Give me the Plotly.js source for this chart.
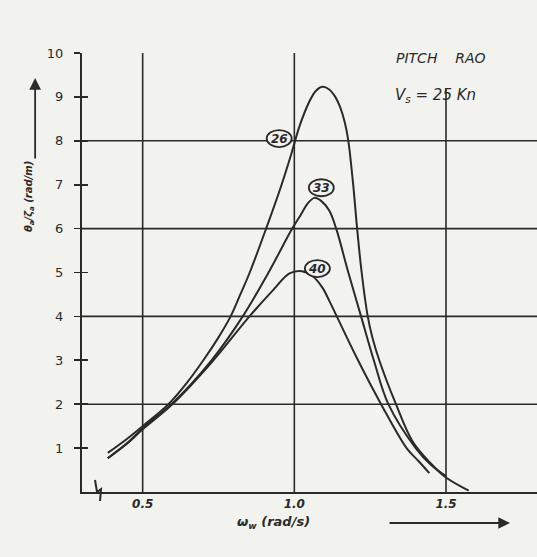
<!DOCTYPE html>
<html>
<head>
<meta charset="utf-8">
<script src="https://cdn.plot.ly/plotly-3.0.1.min.js"></script>
<style>html,body{margin:0;padding:0;background:#f2f2ef;}#chart{width:537px;height:557px;}</style>
</head>
<body>
<div id="chart"></div>
<script>
// Pitch RAO, Vs = 25 Kn, curves labelled 26, 33, 40
var omega26 = [0.385, 0.45, 0.5, 0.585, 0.645, 0.70, 0.748, 0.79, 0.822, 0.853, 0.907, 0.958, 0.99, 1.018, 1.05, 1.07, 1.092, 1.115, 1.135, 1.152, 1.167, 1.178, 1.194, 1.207, 1.222, 1.242, 1.258, 1.28, 1.335, 1.39, 1.45, 1.5, 1.575];
var rao26   = [0.89, 1.22, 1.5, 2.0, 2.48, 3.0, 3.5, 4.0, 4.5, 5.0, 6.0, 7.0, 7.7, 8.35, 8.9, 9.13, 9.23, 9.17, 9.0, 8.75, 8.4, 8.0, 7.0, 6.0, 5.0, 4.0, 3.5, 3.0, 2.0, 1.15, 0.65, 0.33, 0.03];

var omega33 = [0.385, 0.45, 0.5, 0.595, 0.727, 0.83, 0.915, 0.993, 1.02, 1.045, 1.066, 1.09, 1.115, 1.138, 1.178, 1.22, 1.262, 1.31, 1.40, 1.45, 1.5];
var rao33   = [0.77, 1.12, 1.45, 2.0, 3.0, 4.0, 5.0, 6.0, 6.3, 6.58, 6.7, 6.62, 6.41, 6.0, 5.0, 4.0, 3.0, 2.0, 1.0, 0.62, 0.36];

var omega40 = [0.385, 0.45, 0.5, 0.595, 0.727, 0.852, 0.93, 0.984, 1.025, 1.06, 1.092, 1.115, 1.14, 1.21, 1.286, 1.37, 1.41, 1.445];
var rao40   = [0.77, 1.11, 1.43, 1.98, 2.95, 4.0, 4.6, 4.98, 5.03, 4.92, 4.66, 4.36, 4.0, 3.0, 2.0, 1.0, 0.7, 0.43];

var curveLabels = ['26', '33', '40'];
var labelX = [0.95, 1.089, 1.076];
var labelY = [8.05, 6.93, 5.09];

var xTickVals = [0.5, 1.0, 1.5];
var xTickText = ['0.5', '1.0', '1.5'];
var yTickVals = [1, 2, 3, 4, 5, 6, 7, 8, 9, 10];
var yTickText = ['1', '2', '3', '4', '5', '6', '7', '8', '9', '10'];
var hGrid = [2, 4, 6, 8];
var vGrid = [0.5, 1.0, 1.5];
var vGridTop = [10, 10, 9.2];

var ink = '#2a2a2a';
var bg = '#f2f2ef';
var handFont = {family: 'DejaVu Sans', size: 12, color: ink, style: 'italic', weight: 'bold'};

function curve(x, y) {
  return {x: x, y: y, type: 'scatter', mode: 'lines',
          line: {color: ink, width: 2, shape: 'spline', smoothing: 1},
          hoverinfo: 'skip', showlegend: false};
}
var traces = [curve(omega26, rao26), curve(omega33, rao33), curve(omega40, rao40),
  {x: [], y: [], yaxis: 'y2', type: 'scatter', showlegend: false}];

var shapes = [];
hGrid.forEach(function (v) {
  shapes.push({type: 'line', xref: 'paper', yref: 'y', x0: 0, x1: 1, y0: v, y1: v,
               line: {color: ink, width: 1.6}, layer: 'below'});
});
vGrid.forEach(function (v, i) {
  shapes.push({type: 'line', xref: 'x', yref: 'y', x0: v, x1: v, y0: 0, y1: vGridTop[i],
               line: {color: ink, width: 1.6}, layer: 'below'});
});
// axis break mark
shapes.push({type: 'path', xref: 'paper', yref: 'paper',
  path: 'M 0.0286 0.0273 L 0.033 0 L 0.0418 0.0068 L 0.0396 -0.0205',
  line: {color: ink, width: 2}});

var annotations = [];
curveLabels.forEach(function (t, i) {
  shapes.push({type: 'circle', xref: 'x', yref: 'y', xsizemode: 'pixel', ysizemode: 'pixel',
    xanchor: labelX[i], yanchor: labelY[i], x0: -12.5, x1: 12.5, y0: -8.5, y1: 8.5,
    fillcolor: bg, line: {color: ink, width: 1.8}, layer: 'above'});
  annotations.push({x: labelX[i], y: labelY[i], xref: 'x', yref: 'y', text: t, showarrow: false,
    xanchor: 'center', yanchor: 'middle',
    font: {family: 'DejaVu Sans', size: 12, color: ink, style: 'italic', weight: 'bold'}});
});

annotations.push({xref: 'paper', yref: 'paper', x: 0.789, y: 0.9886, xanchor: 'center', yanchor: 'middle',
  text: 'PITCH&nbsp;&nbsp;&nbsp;&nbsp;RAO',
  showarrow: false, font: {family: 'DejaVu Sans', size: 14, color: ink, style: 'italic'}});
annotations.push({xref: 'paper', yref: 'paper', x: 0.778, y: 0.904, xanchor: 'center', yanchor: 'middle',
  text: 'V<sub>s</sub> = 25 Kn',
  showarrow: false, font: {family: 'DejaVu Sans', size: 15, color: ink, style: 'italic'}});
annotations.push({xref: 'paper', yref: 'paper', x: 0.42, y: -0.0706, xanchor: 'center', yanchor: 'middle',
  text: 'ω<sub>w</sub> (rad/s)',
  showarrow: false, font: {family: 'DejaVu Sans', size: 13, color: ink, style: 'italic', weight: 'bold'}});
annotations.push({xref: 'paper', yref: 'paper', x: -0.114, y: 0.672, xanchor: 'center', yanchor: 'middle',
  textangle: -90,
  text: 'θ<sub>a</sub>/ζ<sub>a</sub> (rad/m)', showarrow: false,
  font: {family: 'DejaVu Sans', size: 10, color: ink, style: 'italic', weight: 'bold'}});
// arrows
annotations.push({xref: 'paper', yref: 'paper', x: -0.103, y: 0.943, text: '', showarrow: true,
  ax: 0, ay: 82, arrowhead: 2, arrowsize: 1.3, arrowwidth: 1.8, arrowcolor: ink});
annotations.push({xref: 'paper', yref: 'paper', x: 0.9407, y: -0.0706, text: '', showarrow: true,
  ax: -122, ay: 0, arrowhead: 2, arrowsize: 1.3, arrowwidth: 1.8, arrowcolor: ink});

var layout = {
  width: 537, height: 557,
  margin: {l: 82, r: 0, t: 53, b: 65},
  paper_bgcolor: bg, plot_bgcolor: bg,
  showlegend: false,
  xaxis: {range: [0.3, 1.8], tickvals: xTickVals, ticktext: xTickText, showgrid: false,
    zeroline: false, showline: true, linecolor: ink, linewidth: 2, ticks: '',
    tickfont: handFont, fixedrange: true},
  yaxis: {range: [0, 10], tickvals: yTickVals, ticktext: yTickText, showgrid: false,
    zeroline: false, showline: true, linecolor: ink, linewidth: 2, ticks: 'outside',
    ticklen: 6, tickwidth: 1.6, tickcolor: ink, ticklabelstandoff: 8,
    tickfont: {family: 'DejaVu Sans', size: 13, color: ink}, fixedrange: true},
  yaxis2: {range: [0, 10], overlaying: 'y', side: 'left', anchor: 'x', tickvals: yTickVals,
    showticklabels: false, ticks: 'inside', ticklen: 6, tickwidth: 1.6, tickcolor: ink,
    showgrid: false, zeroline: false, showline: false, fixedrange: true},
  shapes: shapes,
  annotations: annotations
};

Plotly.newPlot('chart', traces, layout, {displayModeBar: false, staticPlot: true});
</script>
</body>
</html>
